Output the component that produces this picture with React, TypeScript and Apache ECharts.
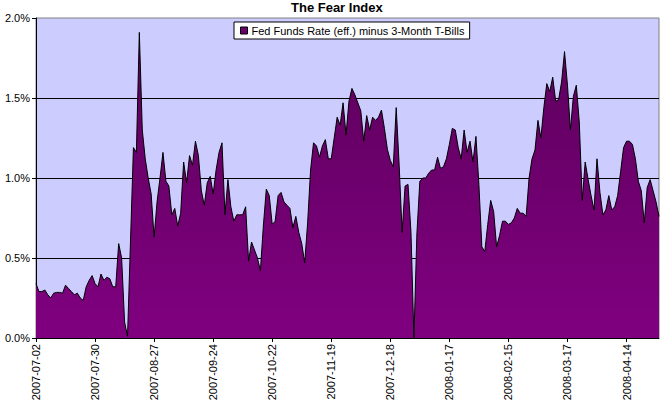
import React, { useEffect, useRef } from "react";
import * as echarts from "echarts";

const startDate = "2007-07-02";
const endDate = "2008-04-29";
const holidays = ["2007-11-22", "2007-12-25", "2008-01-01", "2008-01-21", "2008-02-18"];

const seg0702 = [0.34, 0.29, 0.29, 0.30, 0.27, 0.25, 0.28, 0.285, 0.285, 0.28, 0.33, 0.31, 0.29, 0.27, 0.28, 0.25, 0.235, 0.32, 0.36, 0.39];
const seg0730 = [0.34, 0.32, 0.40, 0.36, 0.38, 0.37, 0.32, 0.32, 0.59, 0.50, 0.10, 0.01, 0.60, 1.19, 1.16, 1.91, 1.30, 1.12, 1.00, 0.90];
const seg0827 = [0.63, 0.85, 1.00, 1.16, 0.98, 0.95, 0.77, 0.81, 0.70, 0.78, 1.10, 0.97, 1.14, 1.08, 1.23, 1.14, 0.92, 0.83, 0.97, 1.01];
const seg0924 = [0.90, 1.05, 1.16, 1.22, 0.77, 0.99, 0.82, 0.73, 0.77, 0.77, 0.77, 0.82, 0.48, 0.60, 0.55, 0.50, 0.42, 0.70, 0.93, 0.89];
const seg1022 = [0.71, 0.73, 0.89, 0.91, 0.85, 0.83, 0.81, 0.69, 0.76, 0.66, 0.59, 0.47, 0.72, 1.05, 1.22, 1.20, 1.13, 1.20, 1.24, 1.12];
const seg1119 = [1.12, 1.25, 1.38, 1.33, 1.47, 1.27, 1.48, 1.56, 1.52, 1.47, 1.42, 1.23, 1.39, 1.30, 1.38, 1.36, 1.38, 1.425, 1.31, 1.18];
const seg1218 = [1.11, 1.07, 1.44, 1.08, 0.66, 0.95, 0.96, 0.66, 0.00, 0.65, 0.98, 1.00, 1.00, 1.03, 1.05, 1.05, 1.13, 1.06, 1.07, 1.12];
const seg0117 = [1.21, 1.31, 1.30, 1.19, 1.12, 1.30, 1.16, 1.23, 1.10, 1.26, 0.96, 0.57, 0.54, 0.71, 0.86, 0.79, 0.57, 0.64, 0.73, 0.73];
const seg0215 = [0.71, 0.72, 0.75, 0.81, 0.78, 0.78, 0.76, 1.00, 1.12, 1.175, 1.36, 1.25, 1.44, 1.59, 1.54, 1.63, 1.48, 1.49, 1.60, 1.79];
const seg0317 = [1.58, 1.30, 1.51, 1.58, 1.35, 0.86, 1.10, 0.99, 0.89, 0.80, 1.12, 0.91, 0.77, 0.80, 0.89, 0.80, 0.82, 0.89, 1.04, 1.19];
const seg0414 = [1.23, 1.23, 1.21, 1.12, 0.98, 0.92, 0.72, 0.94, 0.99, 0.92, 0.85, 0.76];

const spread = [
  ...seg0702, ...seg0730, ...seg0827, ...seg0924, ...seg1022, ...seg1119,
  ...seg1218, ...seg0117, ...seg0215, ...seg0317, ...seg0414,
];

function businessDays(start: string, end: string, skip: string[]): string[] {
  const out: string[] = [];
  const d = new Date(start + "T00:00:00Z");
  const e = new Date(end + "T00:00:00Z");
  while (d.getTime() <= e.getTime()) {
    const wd = d.getUTCDay();
    const s = d.toISOString().slice(0, 10);
    if (wd !== 0 && wd !== 6 && skip.indexOf(s) < 0) out.push(s);
    d.setUTCDate(d.getUTCDate() + 1);
  }
  return out;
}

const dates = businessDays(startDate, endDate, holidays);

const FONT = "'Liberation Sans', Arial, sans-serif";

export default function App() {
  const ref = useRef<HTMLDivElement>(null);
  useEffect(() => {
    if (!ref.current) return;
    const chart = echarts.init(ref.current, null, { renderer: "svg" });
    chart.setOption({
      animation: false,
      backgroundColor: "#ffffff",
      title: {
        text: "The Fear Index",
        left: 291,
        top: 1,
        padding: 0,
        textStyle: { fontFamily: FONT, fontSize: 13, fontWeight: "bold", color: "#000" },
      },
      legend: {
        left: 234,
        top: 22,
        padding: [3, 5, 3, 6],
        backgroundColor: "#ffffff",
        borderColor: "#000000",
        borderWidth: 1,
        borderRadius: 0,
        icon: "rect",
        itemWidth: 7,
        itemHeight: 7,
        itemGap: 4,
        itemStyle: { color: "#6a006a", borderColor: "#000", borderWidth: 1 },
        textStyle: { fontFamily: FONT, fontSize: 11, color: "#000", padding: [0, 0, 0, -1] },
        data: ["Fed Funds Rate (eff.) minus 3-Month T-Bills"],
      },
      grid: {
        left: 36,
        top: 18,
        right: 3,
        bottom: 67,
        show: true,
        backgroundColor: "#ccccff",
        borderColor: "#808080",
        borderWidth: 1,
      },
      xAxis: {
        type: "category",
        data: dates,
        boundaryGap: false,
        axisLine: { lineStyle: { color: "#000", width: 1 } },
        axisTick: { show: true, interval: 19, length: 4, lineStyle: { color: "#000" } },
        axisLabel: {
          interval: 19,
          rotate: 90,
          margin: 6,
          fontFamily: FONT,
          fontSize: 11,
          color: "#000",
        },
        splitLine: { show: false },
      },
      yAxis: {
        type: "value",
        min: 0,
        max: 2,
        interval: 0.5,
        axisLine: { show: true, lineStyle: { color: "#000", width: 1 } },
        axisTick: { show: true, length: 4, lineStyle: { color: "#000" } },
        axisLabel: {
          fontFamily: FONT,
          fontSize: 11,
          color: "#000",
          margin: 6,
          formatter: (v: number) => v.toFixed(1) + "%",
        },
        splitLine: { show: true, showMaxLine: false, lineStyle: { color: "#000", width: 1 } },
      },
      series: [
        {
          name: "Fed Funds Rate (eff.) minus 3-Month T-Bills",
          type: "line",
          data: spread,
          showSymbol: false,
          symbol: "none",
          sampling: undefined,
          itemStyle: { color: "#6a006a" },
          lineStyle: { color: "#000", width: 1 },
          areaStyle: {
            opacity: 1,
            color: {
              type: "linear",
              x: 0,
              y: 0,
              x2: 0,
              y2: 1,
              colorStops: [
                { offset: 0, color: "#5c005c" },
                { offset: 1, color: "#800080" },
              ],
            },
          },
        },
      ],
    });
    return () => chart.dispose();
  }, []);
  return (
    <div
      ref={ref}
      style={{ position: "fixed", left: 0, top: 0, width: 662, height: 405 }}
    />
  );
}
